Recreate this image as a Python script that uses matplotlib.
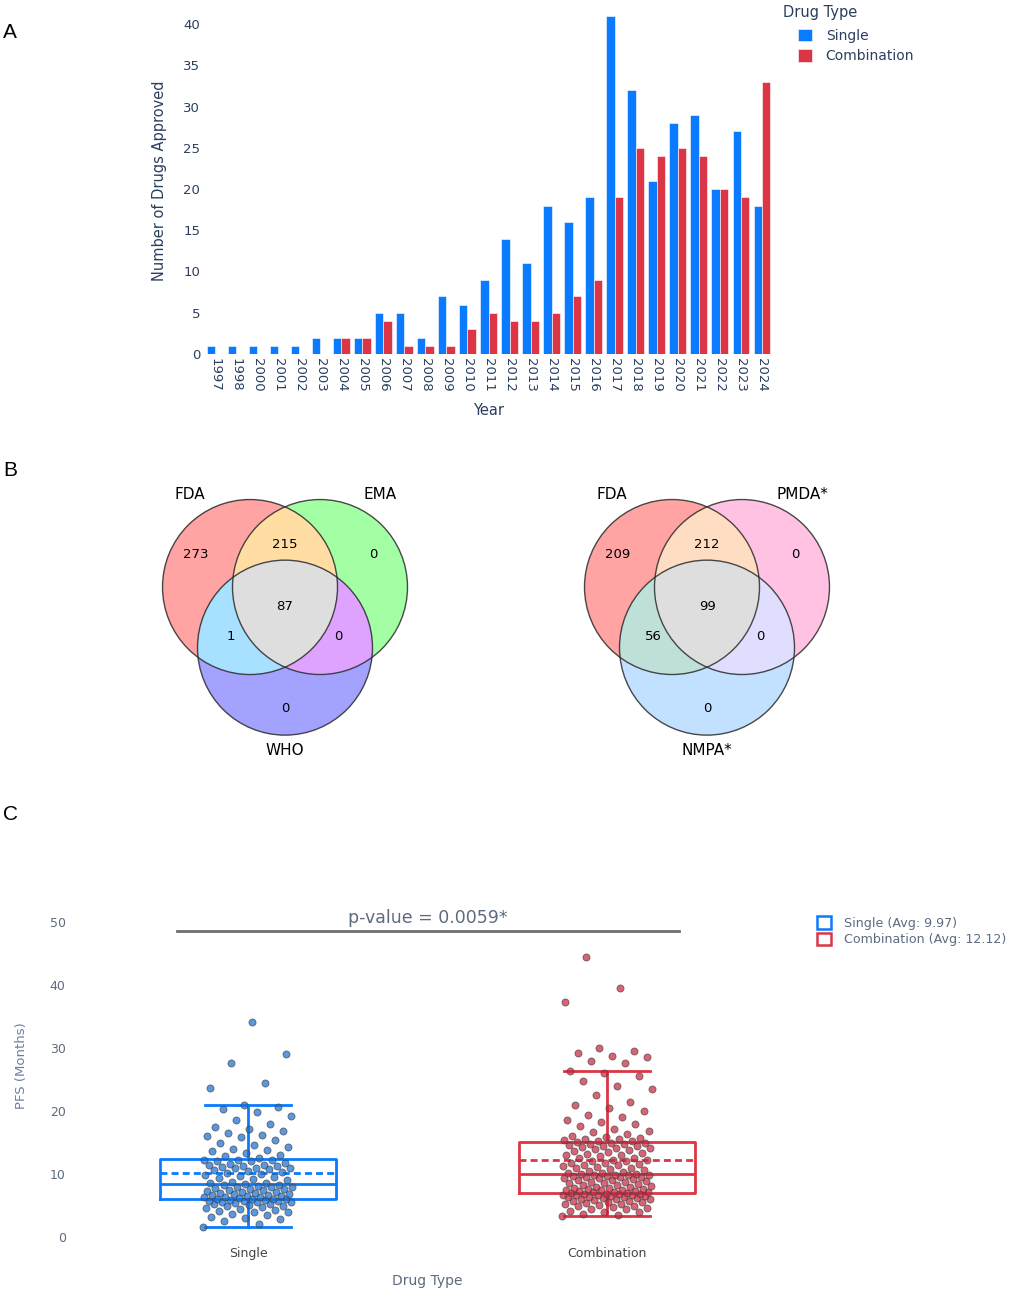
import numpy as np
import matplotlib
matplotlib.use("Agg")
import matplotlib.pyplot as plt
from matplotlib.patches import Circle, Patch, PathPatch
from matplotlib.path import Path

plt.rcParams['font.family'] = ['DejaVu Sans']

# ---------------- data ----------------
years = ['1997', '1998', '2000', '2001', '2002', '2003', '2004', '2005', '2006',
         '2007', '2008', '2009', '2010', '2011', '2012', '2013', '2014', '2015',
         '2016', '2017', '2018', '2019', '2020', '2021', '2022', '2023', '2024']
single_counts = [1, 1, 1, 1, 1, 2, 2, 2, 5, 5, 2, 7, 6, 9, 14, 11, 18, 16, 19,
                 41, 32, 21, 28, 29, 20, 27, 18]
combo_counts = [0, 0, 0, 0, 0, 0, 2, 2, 4, 1, 1, 1, 3, 5, 4, 4, 5, 7, 9,
                19, 25, 24, 25, 24, 20, 19, 33]

# venn region counts: (A only, B only, AB, C only, AC, BC, ABC)
venn_left_sets = ['FDA', 'EMA', 'WHO']
venn_left_counts = [273, 0, 215, 0, 1, 0, 87]
venn_right_sets = ['FDA', 'PMDA*', 'NMPA*']
venn_right_counts = [209, 0, 212, 0, 56, 0, 99]

pfs_single = [
    1.6, 2.0, 2.5, 2.8, 3.0, 3.2, 3.5, 3.7, 3.9, 4.0, 4.1, 4.3, 4.5, 4.6, 4.8,
    4.9, 5.0, 5.1, 5.2, 5.3, 5.4, 5.5, 5.5, 5.6, 5.7, 5.8, 5.8, 5.9, 5.9, 6.0,
    6.0, 6.1, 6.1, 6.2, 6.3, 6.3, 6.4, 6.5, 6.5, 6.6, 6.7, 6.8, 6.9, 7.0, 7.0,
    7.1, 7.2, 7.3, 7.4, 7.5, 7.6, 7.7, 7.8, 7.9, 8.0, 8.0, 8.1, 8.2, 8.3, 8.4,
    8.5, 8.6, 8.8, 9.0, 9.2, 9.4, 9.5, 9.7, 9.9, 10.0, 10.2, 10.4, 10.5, 10.6,
    10.8, 10.9, 11.0, 11.0, 11.1, 11.2, 11.3, 11.4, 11.5, 11.6, 11.8, 12.0,
    12.1, 12.2, 12.3, 12.3, 12.5, 12.8, 13.0, 13.3, 13.6, 13.8, 14.0, 14.3,
    14.6, 15.0, 15.4, 15.8, 16.0, 16.2, 16.5, 16.8, 17.1, 17.5, 18.0, 18.6,
    19.2, 19.8, 20.3, 20.6, 21.0, 23.7, 24.5, 27.7, 29.0, 34.1]
pfs_combo = [
    3.3, 3.5, 3.7, 3.9, 4.0, 4.2, 4.4, 4.5, 4.6, 4.8, 4.9, 5.0, 5.1, 5.2, 5.3,
    5.4, 5.5, 5.6, 5.7, 5.8, 5.9, 6.0, 6.0, 6.1, 6.2, 6.2, 6.3, 6.4, 6.4, 6.5,
    6.5, 6.6, 6.6, 6.7, 6.7, 6.8, 6.8, 6.9, 6.9, 7.0,
    7.0, 7.1, 7.1, 7.2, 7.3, 7.3, 7.4, 7.5, 7.5, 7.6, 7.7, 7.8, 7.8, 7.9, 8.0,
    8.1, 8.2, 8.3, 8.4, 8.5, 8.6, 8.7, 8.8, 8.9, 9.0, 9.1, 9.2, 9.3, 9.4, 9.5,
    9.6, 9.6, 9.7, 9.7, 9.8, 9.8, 9.9, 9.9, 10.0, 10.0,
    10.1, 10.2, 10.4, 10.5, 10.6, 10.8, 10.9, 11.0, 11.1, 11.2, 11.4, 11.5,
    11.6, 11.7, 11.8, 12.0, 12.1, 12.2, 12.3, 12.5, 12.6, 12.8, 13.0, 13.1,
    13.2, 13.4, 13.5, 13.7, 13.8, 14.0, 14.1, 14.2, 14.3, 14.4, 14.5, 14.6,
    14.7, 14.8, 14.9, 15.0,
    15.1, 15.2, 15.3, 15.4, 15.5, 15.6, 15.7, 15.9, 16.1, 16.3, 16.6, 16.9,
    17.2, 17.6, 18.0, 18.3, 18.6, 19.0, 19.3, 20.0, 20.5, 21.0, 21.5, 22.5,
    23.5, 24.0, 24.8, 25.5, 26.0, 26.3, 27.6, 28.0, 28.5, 28.8, 29.2, 29.6,
    30.0, 37.3, 39.5, 44.5]
drug_types = ['Single', 'Combination']
avg_labels = ['Single (Avg: 9.97)', 'Combination (Avg: 12.12)']
p_value_text = 'p-value = 0.0059*'

BLUE = '#0A7BFF'
RED = '#DC3545'
PLOTLY_TXT = '#2a3f5f'

W, H = 1017, 1297
fig = plt.figure(figsize=(W / 100, H / 100), dpi=100)


def px_axes(x0, y0, x1, y1):
    """axes from pixel box (top-left origin)"""
    return fig.add_axes([x0 / W, 1 - y1 / H, (x1 - x0) / W, (y1 - y0) / H])


# ---------------- panel A ----------------
axA = px_axes(204.5, 7.5, 772.5, 354)
x = np.arange(len(years))
axA.bar(x - 0.2, single_counts, width=0.4, color=BLUE, label='Single',
        edgecolor='white', linewidth=0.4)
axA.bar(x + 0.2, combo_counts, width=0.4, color=RED, label='Combination',
        edgecolor='white', linewidth=0.4)
axA.set_xlim(-0.5, len(years) - 0.5)
axA.set_ylim(0, 42)
axA.set_yticks(range(0, 41, 5))
axA.set_xticks(x)
axA.set_xticklabels(years, rotation=-90, ha='center', va='top')
for s in axA.spines.values():
    s.set_visible(False)
axA.tick_params(length=0, labelsize=9.5, colors=PLOTLY_TXT, pad=3)
axA.set_ylabel('Number of Drugs Approved', fontsize=10.5, color=PLOTLY_TXT, labelpad=12)
axA.set_xlabel('Year', fontsize=10.5, color=PLOTLY_TXT, labelpad=8)
fig.text(783 / W, 1 - 13 / H, 'Drug Type', fontsize=10.5, color=PLOTLY_TXT,
         ha='left', va='center')
legA = axA.legend(loc='upper left', bbox_to_anchor=(791 / W, 1 - 22 / H),
                  bbox_transform=fig.transFigure, frameon=False, fontsize=10,
                  borderpad=0, handlelength=1.0, handleheight=1.0,
                  handletextpad=1.0, labelspacing=0.45)
for t in legA.get_texts():
    t.set_color(PLOTLY_TXT)

# ---------------- panel B (venns) ----------------
R = 1.0
D = 0.8


def lens_path(c1, c2, r, n=200):
    d = np.hypot(c2[0] - c1[0], c2[1] - c1[1])
    a = np.arccos(d / (2 * r))
    phi = np.arctan2(c2[1] - c1[1], c2[0] - c1[0])
    t1 = np.linspace(phi - a, phi + a, n)
    t2 = np.linspace(phi + np.pi - a, phi + np.pi + a, n)
    pts1 = np.column_stack([c1[0] + r * np.cos(t1), c1[1] + r * np.sin(t1)])
    pts2 = np.column_stack([c2[0] + r * np.cos(t2), c2[1] + r * np.sin(t2)])
    pts = np.vstack([pts1, pts2, pts1[:1]])
    return Path(pts, closed=True)


def draw_venn(ax, names, counts, cols):
    cA = (-D / 2, 0.0)
    cB = (D / 2, 0.0)
    cC = (0.0, -D * np.sqrt(3) / 2)
    for c, k in ((cA, 'A'), (cB, 'B'), (cC, 'C')):
        ax.add_patch(Circle(c, R, fc=cols[k], ec='none'))
    pAB = ax.add_patch(Circle(cB, R, fc=cols['AB'], ec='none'))
    pAB.set_clip_path(Circle(cA, R, transform=ax.transData))
    pAC = ax.add_patch(Circle(cC, R, fc=cols['AC'], ec='none'))
    pAC.set_clip_path(Circle(cA, R, transform=ax.transData))
    pBC = ax.add_patch(Circle(cC, R, fc=cols['BC'], ec='none'))
    pBC.set_clip_path(Circle(cB, R, transform=ax.transData))
    pABC = ax.add_patch(Circle(cC, R, fc=cols['ABC'], ec='none'))
    pABC.set_clip_path(PathPatch(lens_path(cA, cB, R), transform=ax.transData))
    for c in (cA, cB, cC):
        ax.add_patch(Circle(c, R, fill=False, ec='#2b2b2b', lw=1.0, alpha=0.85))
    # region labels
    pos = [(-1.017, 0.366), (1.006, 0.366), (0.0, 0.491), (0.0, -1.383),
           (-0.617, -0.571), (0.606, -0.571), (0.0, -0.217)]
    for (px, py), n in zip(pos, counts):
        ax.text(px, py, str(n), ha='center', va='center', fontsize=9.5, color='black')
    ax.text(-1.086, 1.063, names[0], ha='center', va='center', fontsize=11)
    ax.text(1.086, 1.063, names[1], ha='center', va='center', fontsize=11)
    ax.text(0.0, -1.874, names[2], ha='center', va='center', fontsize=11)
    ax.set_xlim(-1.543, 1.543)
    ax.set_ylim(-2.034, 1.223)
    ax.set_aspect('equal')
    ax.axis('off')


colors_left = {'A': '#FFA3A3', 'B': '#A3FFA3', 'C': '#A3A3FF',
               'AB': '#FFDDA3', 'AC': '#A8E0FF', 'BC': '#DDA3FF', 'ABC': '#DEDEDE'}
colors_right = {'A': '#FFA3A3', 'B': '#FFC2E3', 'C': '#C2E0FF',
                'AB': '#FFDDC2', 'AC': '#BFE0D8', 'BC': '#E0DEFF', 'ABC': '#DEDEDE'}

axB1 = px_axes(150, 480, 420, 765)
draw_venn(axB1, venn_left_sets, venn_left_counts, colors_left)
axB2 = px_axes(572, 480, 842, 765)
draw_venn(axB2, venn_right_sets, venn_right_counts, colors_right)

# ---------------- panel C ----------------
axC = px_axes(68.5, 890.5, 786.5, 1240.2)
data_c = [pfs_single, pfs_combo]
box_cols = [BLUE, RED]
pt_cols = ['#1A6FD0', '#C8283E']
bp = axC.boxplot(data_c, positions=[0, 1], widths=0.49, showmeans=True, meanline=True,
                 showfliers=False, capwidths=0.24, whis=1.5, manage_ticks=False)
for i, col in enumerate(box_cols):
    for key in ('boxes', 'medians', 'means'):
        bp[key][i].set_color(col)
        bp[key][i].set_linewidth(2)
    bp['means'][i].set_linestyle((0, (2.5, 1.5)))
    for key in ('whiskers', 'caps'):
        for art in bp[key][2 * i:2 * i + 2]:
            art.set_color(col)
            art.set_linewidth(2)

golden = 0.61803398875
for i, (vals, col) in enumerate(zip(data_c, pt_cols)):
    n = len(vals)
    jit = np.array([((k * golden) % 1.0 - 0.5) * 0.25 for k in range(n)])
    axC.scatter(i + jit, vals, s=26, color=col, alpha=0.72, edgecolors='#444444',
                linewidths=0.6, zorder=3)

axC.set_xlim(-0.5, 1.5)
axC.set_ylim(-0.5, 55)
axC.set_yticks(range(0, 51, 10))
axC.set_xticks([0, 1])
axC.set_xticklabels(drug_types)
for s in axC.spines.values():
    s.set_visible(False)
axC.tick_params(axis='y', length=0, labelsize=9, colors='#5c6b80', pad=2)
axC.tick_params(axis='x', length=0, labelsize=9, colors='#444444', pad=5)
axC.set_ylabel('PFS (Months)', fontsize=9.5, color='#6d7fa0', labelpad=16)
axC.set_xlabel('Drug Type', fontsize=10, color='#5c6b80', labelpad=10)
axC.plot([-0.198, 1.2], [48.6, 48.6], color='#6e6e6e', lw=2)
axC.text(0.5, 50.6, p_value_text, ha='center', va='center', fontsize=12.5, color='#5c6b80')

handles = [Patch(facecolor='white', edgecolor=c, linewidth=1.8) for c in box_cols]
legC = axC.legend(handles, avg_labels, loc='upper left', bbox_to_anchor=(806 / W, 1 - 905 / H),
                  bbox_transform=fig.transFigure, frameon=False, fontsize=9.1,
                  handlelength=1.1, handleheight=1.1, handletextpad=1.0, labelspacing=0.25)
for t in legC.get_texts():
    t.set_color('#5c6b80')

# panel letters
for lab, yy in (('A', 33), ('B', 471), ('C', 815)):
    fig.text(3 / W, 1 - yy / H, lab, fontsize=15, family='Liberation Sans', va='center', ha='left')

fig.savefig('out.png', dpi=100)
